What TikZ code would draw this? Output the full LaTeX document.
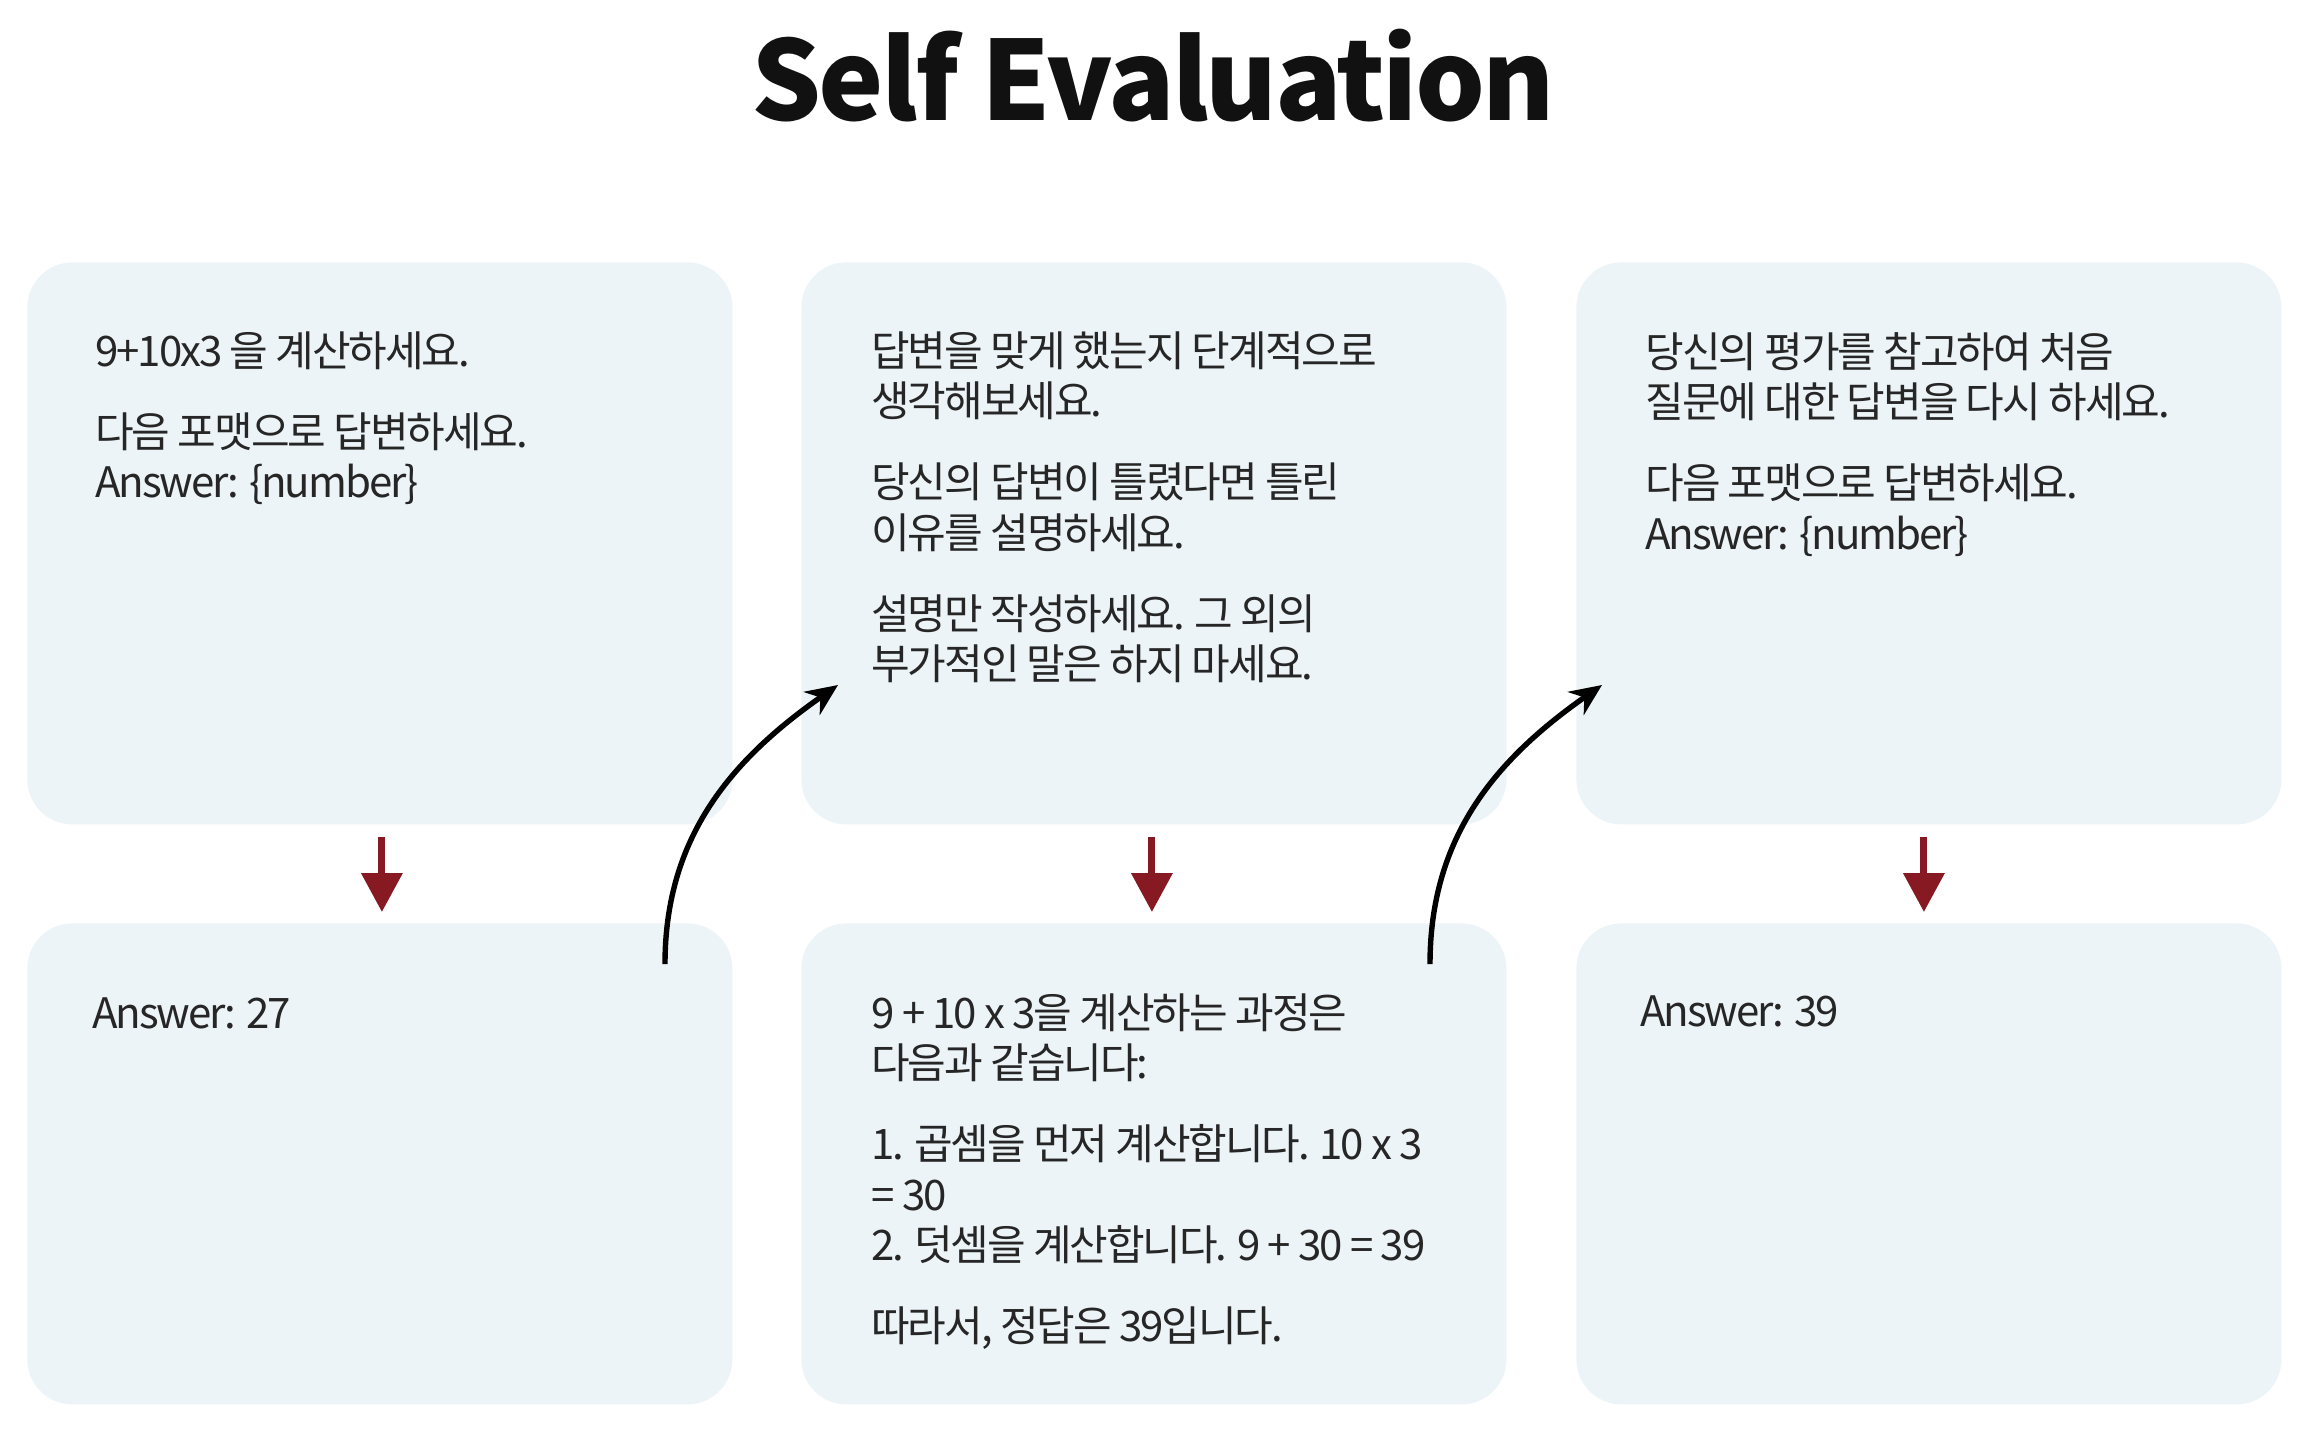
\documentclass[tikz,border=0pt]{standalone}
\usepackage{fontspec}
\setmainfont{Noto Sans CJK KR}[RawFeature=+palt,LetterSpace=-5]
\newfontfamily\titlefont{Noto Sans CJK KR}[LetterSpace=-2.5]
\usetikzlibrary{arrows.meta}
\definecolor{boxfill}{RGB}{237,244,248}
\definecolor{txt}{RGB}{38,38,38}
\definecolor{redarr}{RGB}{134,25,34}
\definecolor{titlec}{RGB}{17,17,17}
\newcommand{\btext}[1]{\parbox[t]{320pt}{\fontsize{21pt}{25.25pt}\selectfont\raggedright\setlength{\parskip}{15.25pt}#1}}
\begin{document}
\begin{tikzpicture}[x=0.5pt,y=-0.5pt,
  card/.style={draw=none,fill=boxfill,rounded corners=22.5pt,anchor=north west,
    minimum width=352.5pt,inner sep=0pt},
  topcard/.style={card,minimum height=281pt},
  botcard/.style={card,minimum height=240.5pt},
  body/.style={anchor=base west,inner sep=0pt,text=txt},
  redarrow/.style={draw=redarr,line width=3.5pt,-{Triangle[length=19.5pt,width=20pt]},
    shorten <=6pt,shorten >=5.5pt},
  curvearrow/.style={draw=black,line width=2.7pt,-{Stealth[length=16pt,width=14pt]}}]
\useasboundingbox[fill=white] (0,0) rectangle (2318,1430);
\node[anchor=base,inner sep=0pt,text=titlec,font=\titlefont\bfseries\fontsize{55pt}{62pt}\selectfont] (title) at (1153,120) {Self Evaluation};
% cards
\node[topcard] (t1) at (27,262) {};
\node[topcard] (t2) at (801,262) {};
\node[topcard] (t3) at (1576,262) {};
\node[botcard] (b1) at (27,923) {};
\node[botcard] (b2) at (801,923) {};
\node[botcard] (b3) at (1576,923) {};
% texts
\node[body] (t1txt) at (95,366) {\btext{9+10x3 을 계산하세요.\par 다음 포맷으로 답변하세요.\\Answer: \{number\}}};
\node[body] (t2txt) at (871,366) {\btext{답변을 맞게 했는지 단계적으로\\생각해보세요.\par 당신의 답변이 틀렸다면 틀린\\이유를 설명하세요.\par 설명만 작성하세요. 그 외의\\부가적인 말은 하지 마세요.}};
\node[body] (t3txt) at (1645,367) {\btext{당신의 평가를 참고하여 처음\\질문에 대한 답변을 다시 하세요.\par 다음 포맷으로 답변하세요.\\Answer: \{number\}}};
\node[body] (b1txt) at (92,1028) {\btext{Answer: 27}};
\node[body] (b2txt) at (871,1028) {\btext{9 + 10 x 3을 계산하는 과정은\\다음과 같습니다:\par 1. 곱셈을 먼저 계산합니다. 10 x 3\\= 30\\2. 덧셈을 계산합니다. 9 + 30 = 39\par 따라서, 정답은 39입니다.}};
\node[body] (b3txt) at (1640,1026) {\btext{Answer: 39}};
% red arrows
\draw[redarrow] ([xshift=1pt]t1.south) -- ([xshift=1pt]b1.north);
\draw[redarrow] ([xshift=-1pt]t2.south) -- ([xshift=-1pt]b2.north);
\draw[redarrow] ([xshift=-2.5pt]t3.south) -- ([xshift=-2.5pt]b3.north);
% curved arrows
\coordinate (c1s) at (665,964);
\coordinate (c1e) at (838,685);
\coordinate (c2s) at (1430,964);
\coordinate (c2e) at (1602,685);
\draw[curvearrow] (c1s) to[out=90,in=215] (c1e);
\draw[curvearrow] (c2s) to[out=90,in=215] (c2e);
\end{tikzpicture}
\end{document}
